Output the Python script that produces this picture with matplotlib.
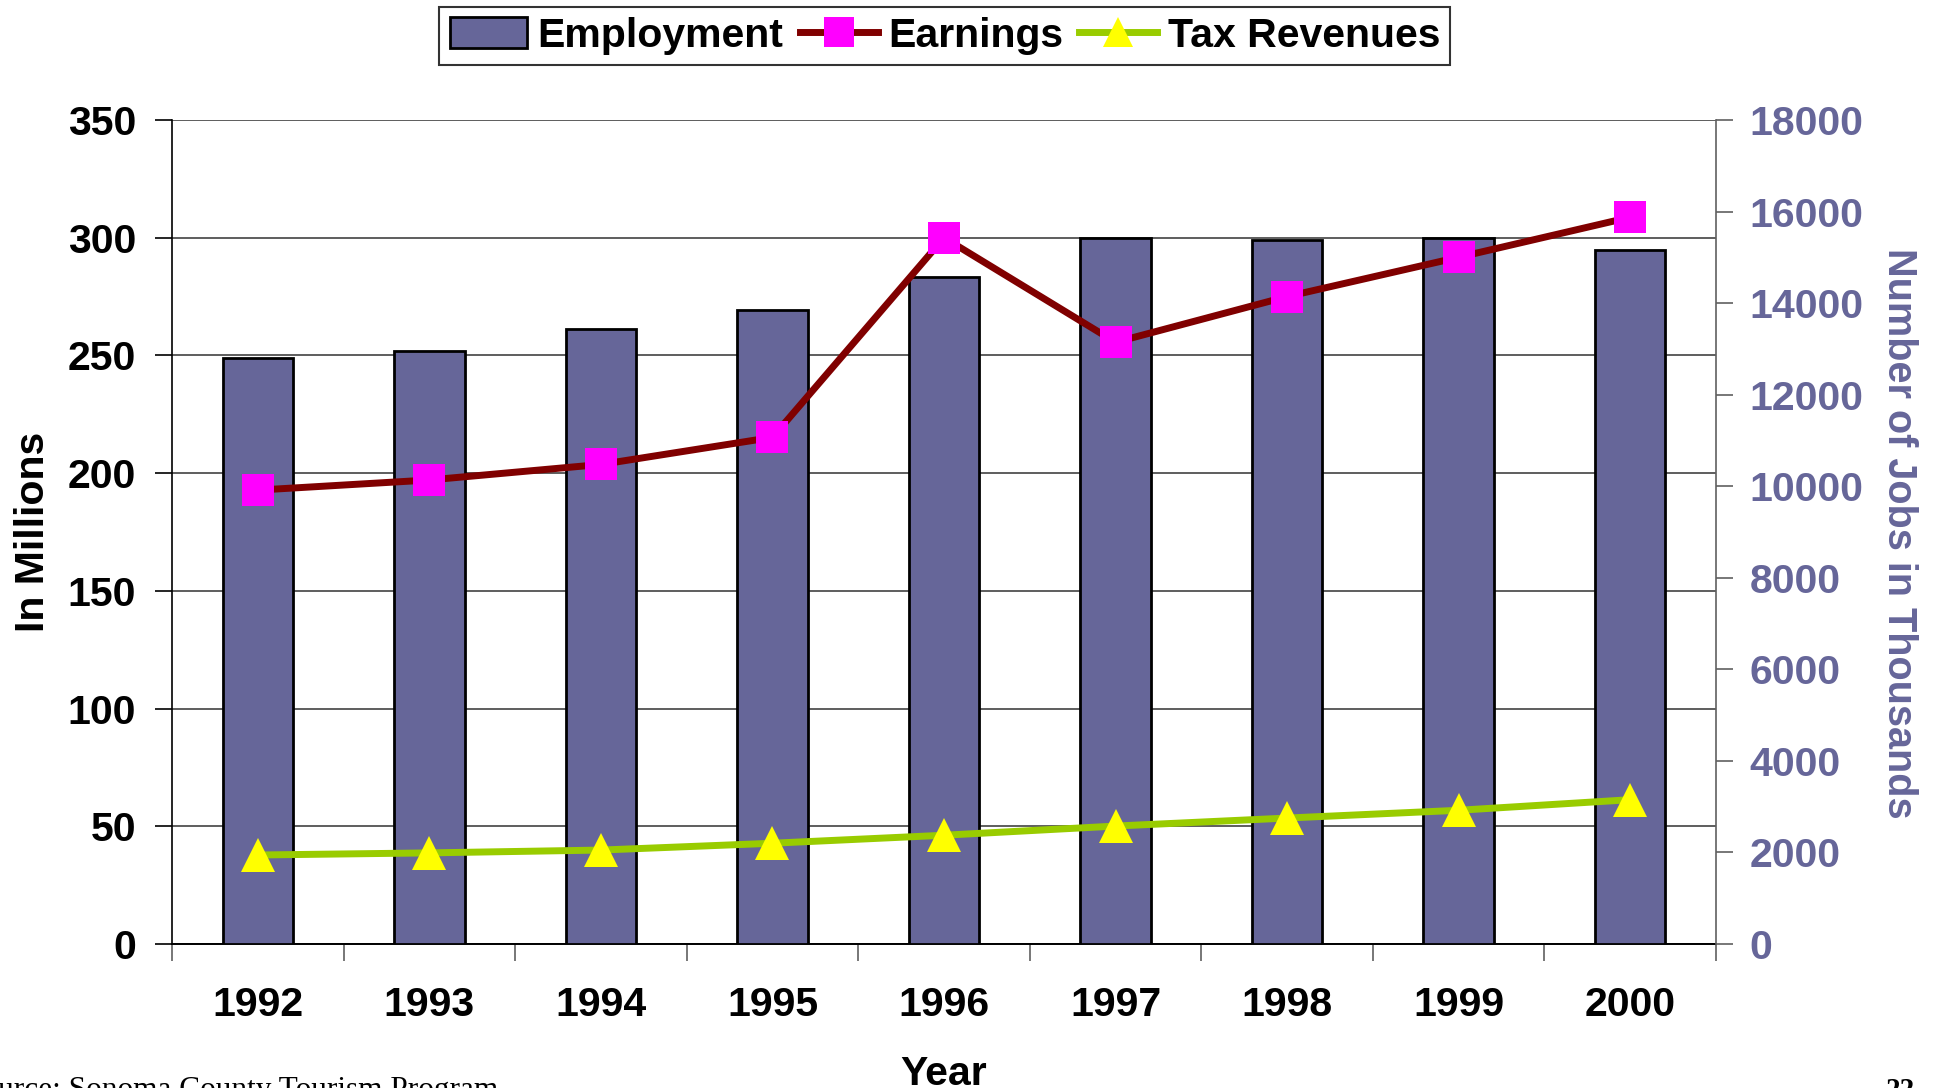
import numpy as np
import matplotlib
matplotlib.use("Agg")
import matplotlib.pyplot as plt
from matplotlib.patches import Patch
from matplotlib.lines import Line2D

plt.rcParams['font.family'] = ['Liberation Sans', 'DejaVu Sans']
plt.rcParams['font.weight'] = 'bold'

years = ['1992', '1993', '1994', '1995', '1996', '1997', '1998', '1999', '2000']
employment = [12800, 12950, 13430, 13850, 14580, 15420, 15380, 15420, 15160]  # thousands of jobs
earnings = [192.8, 197.1, 203.7, 215.2, 300.0, 255.6, 275.0, 291.7, 308.7]    # millions
tax_revenues = [37.8, 38.7, 39.9, 42.8, 46.2, 50.1, 53.5, 56.8, 61.3]         # millions

left_ticks = [0, 50, 100, 150, 200, 250, 300, 350]
right_ticks = [0, 2000, 4000, 6000, 8000, 10000, 12000, 14000, 16000, 18000]

bar_col = '#666699'
fs = 29.5
x = np.arange(len(years))

fig = plt.figure(figsize=(19.4, 10.88), dpi=100)
ax = fig.add_axes([172/1940, 144/1088, 1544/1940, 824/1088])
ax2 = ax.twinx()
ax3 = fig.add_axes(ax.get_position(), sharex=ax, sharey=ax)

# left axis: scale + grid
ax.set_xlim(-0.5, len(years) - 0.5)
ax.set_ylim(0, 350)
ax.set_yticks(left_ticks)
ax.tick_params(axis='y', labelsize=fs, length=12, width=1.2, pad=14, colors='black')
ax.grid(axis='y', color='#505050', lw=1.3)
ax.set_xticks(np.arange(-0.5, len(years), 1))
ax.set_xticklabels([])
ax.set_xticks(x, minor=True)
ax.set_xticklabels(years, minor=True)
ax.tick_params(axis='x', which='major', length=12, width=1.2, color='#606060')
ax.tick_params(axis='x', which='minor', length=0, labelsize=fs, pad=30)
for s in ['top', 'right']:
    ax.spines[s].set_visible(False)
ax.spines['left'].set_linewidth(1.2)
ax.spines['bottom'].set_linewidth(1.4)

# right axis: employment bars
ax2.bar(x, employment, width=0.41, color=bar_col, edgecolor='black', linewidth=2)
ax2.set_ylim(0, 18000)
ax2.set_yticks(right_ticks)
ax2.tick_params(axis='y', labelsize=fs, length=12, width=1.2, pad=12,
                labelcolor=bar_col, color='#606060')
for s in ['top', 'left', 'bottom']:
    ax2.spines[s].set_visible(False)
ax2.spines['right'].set_color('#606060')
ax2.spines['right'].set_linewidth(1.2)

# overlay: lines on left scale
ax3.set_axis_off()
ax3.plot(x, earnings, color='#800000', lw=5, marker='s', ms=23,
         mfc='#FF00FF', mec='#FF00FF', mew=0)
ax3.plot(x, tax_revenues, color='#99CC00', lw=5, marker='^', ms=24,
         mfc='#FFFF00', mec='#FFFF00', mew=0)

fig.text(0.017, 0.511, 'In Millions', rotation=90, ha='center', va='center', fontsize=fs)
fig.text(0.979, 0.51, 'Number of Jobs in Thousands', rotation=270, ha='center',
         va='center', fontsize=28.5, color=bar_col)
fig.text(0.4866, 0.003, 'Year', ha='center', va='baseline', fontsize=fs)

fig.text(-0.018, -0.0092, 'Source: Sonoma County Tourism Program', ha='left', va='baseline',
         fontsize=22.5, family='Liberation Serif', weight='normal')
fig.text(1886/1940, -0.0092, '22', ha='left', va='baseline', fontsize=21,
         family='Liberation Serif', weight='bold')

handles = [Patch(facecolor=bar_col, edgecolor='black', linewidth=2),
           Line2D([], [], color='#800000', lw=5, marker='s', ms=21, mfc='#FF00FF', mew=0),
           Line2D([], [], color='#99CC00', lw=5, marker='^', ms=22, mfc='#FFFF00', mew=0)]
leg = fig.legend(handles, ['Employment', 'Earnings', 'Tax Revenues'], loc='upper center',
                 bbox_to_anchor=(0.487, 0.994), ncol=3, fontsize=fs, frameon=True,
                 fancybox=False, edgecolor='black', handlelength=1.9, handleheight=0.8,
                 handletextpad=0.25, columnspacing=0.4, borderpad=0.25, borderaxespad=0)
leg.get_frame().set_linewidth(1.5)

fig.savefig('out.png', dpi=100)
